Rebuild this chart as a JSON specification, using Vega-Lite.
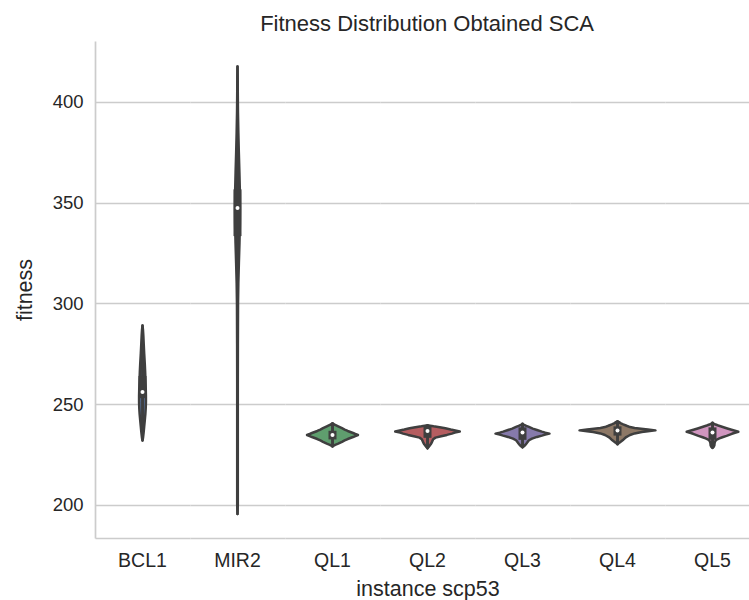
{
  "$schema": "https://vega.github.io/schema/vega-lite/v6.json",
  "padding": {"left": 14, "top": 13, "right": 0, "bottom": 2},
  "background": "white",
  "title": {"text": "Fitness Distribution Obtained SCA", "fontSize": 22, "fontWeight": "normal", "color": "#262626", "font": "Liberation Sans", "offset": 5, "anchor": "middle", "dx": 40},
  "data": {"values": [
    {"g": "BCL1", "v": 289.0, "d": 0},
    {"g": "BCL1", "v": 287.0, "d": 0.012},
    {"g": "BCL1", "v": 284.0, "d": 0.022},
    {"g": "BCL1", "v": 280.0, "d": 0.032},
    {"g": "BCL1", "v": 275.0, "d": 0.045},
    {"g": "BCL1", "v": 270.0, "d": 0.06},
    {"g": "BCL1", "v": 266.0, "d": 0.07},
    {"g": "BCL1", "v": 262.0, "d": 0.078},
    {"g": "BCL1", "v": 258.0, "d": 0.085},
    {"g": "BCL1", "v": 254.0, "d": 0.09},
    {"g": "BCL1", "v": 251.0, "d": 0.09},
    {"g": "BCL1", "v": 248.0, "d": 0.085},
    {"g": "BCL1", "v": 245.0, "d": 0.075},
    {"g": "BCL1", "v": 242.0, "d": 0.06},
    {"g": "BCL1", "v": 239.0, "d": 0.045},
    {"g": "BCL1", "v": 236.0, "d": 0.03},
    {"g": "BCL1", "v": 233.5, "d": 0.015},
    {"g": "BCL1", "v": 232.0, "d": 0},
    {"g": "MIR2", "v": 195.5, "d": 0},
    {"g": "MIR2", "v": 200.0, "d": 0.008},
    {"g": "MIR2", "v": 220.0, "d": 0.008},
    {"g": "MIR2", "v": 240.0, "d": 0.008},
    {"g": "MIR2", "v": 260.0, "d": 0.008},
    {"g": "MIR2", "v": 280.0, "d": 0.01},
    {"g": "MIR2", "v": 300.0, "d": 0.014},
    {"g": "MIR2", "v": 310.0, "d": 0.022},
    {"g": "MIR2", "v": 320.0, "d": 0.036},
    {"g": "MIR2", "v": 330.0, "d": 0.052},
    {"g": "MIR2", "v": 340.0, "d": 0.063},
    {"g": "MIR2", "v": 347.0, "d": 0.066},
    {"g": "MIR2", "v": 355.0, "d": 0.063},
    {"g": "MIR2", "v": 365.0, "d": 0.05},
    {"g": "MIR2", "v": 375.0, "d": 0.035},
    {"g": "MIR2", "v": 385.0, "d": 0.022},
    {"g": "MIR2", "v": 395.0, "d": 0.012},
    {"g": "MIR2", "v": 405.0, "d": 0.007},
    {"g": "MIR2", "v": 412.0, "d": 0.005},
    {"g": "MIR2", "v": 417.5, "d": 0},
    {"g": "QL1", "v": 229.0, "d": 0},
    {"g": "QL1", "v": 229.3, "d": 0.02},
    {"g": "QL1", "v": 229.8, "d": 0.07},
    {"g": "QL1", "v": 230.4, "d": 0.15},
    {"g": "QL1", "v": 231.3, "d": 0.25},
    {"g": "QL1", "v": 232.0, "d": 0.32},
    {"g": "QL1", "v": 232.7, "d": 0.4},
    {"g": "QL1", "v": 233.2, "d": 0.47},
    {"g": "QL1", "v": 233.7, "d": 0.54},
    {"g": "QL1", "v": 234.2, "d": 0.6},
    {"g": "QL1", "v": 234.7, "d": 0.67},
    {"g": "QL1", "v": 235.2, "d": 0.6},
    {"g": "QL1", "v": 235.7, "d": 0.54},
    {"g": "QL1", "v": 236.2, "d": 0.47},
    {"g": "QL1", "v": 236.7, "d": 0.4},
    {"g": "QL1", "v": 237.4, "d": 0.32},
    {"g": "QL1", "v": 238.1, "d": 0.25},
    {"g": "QL1", "v": 239.0, "d": 0.15},
    {"g": "QL1", "v": 239.7, "d": 0.07},
    {"g": "QL1", "v": 240.2, "d": 0.02},
    {"g": "QL1", "v": 240.5, "d": 0},
    {"g": "QL2", "v": 228.1, "d": 0},
    {"g": "QL2", "v": 228.4, "d": 0.013},
    {"g": "QL2", "v": 228.8, "d": 0.034},
    {"g": "QL2", "v": 229.5, "d": 0.06},
    {"g": "QL2", "v": 230.1, "d": 0.085},
    {"g": "QL2", "v": 230.9, "d": 0.11},
    {"g": "QL2", "v": 231.8, "d": 0.13},
    {"g": "QL2", "v": 232.6, "d": 0.15},
    {"g": "QL2", "v": 233.4, "d": 0.21},
    {"g": "QL2", "v": 234.1, "d": 0.36},
    {"g": "QL2", "v": 234.75, "d": 0.51},
    {"g": "QL2", "v": 235.4, "d": 0.64},
    {"g": "QL2", "v": 235.9, "d": 0.72},
    {"g": "QL2", "v": 236.4, "d": 0.85},
    {"g": "QL2", "v": 236.9, "d": 0.73},
    {"g": "QL2", "v": 237.4, "d": 0.61},
    {"g": "QL2", "v": 238.05, "d": 0.47},
    {"g": "QL2", "v": 238.6, "d": 0.32},
    {"g": "QL2", "v": 239.0, "d": 0.16},
    {"g": "QL2", "v": 239.3, "d": 0.07},
    {"g": "QL2", "v": 239.5, "d": 0},
    {"g": "QL3", "v": 228.6, "d": 0},
    {"g": "QL3", "v": 228.9, "d": 0.02},
    {"g": "QL3", "v": 229.3, "d": 0.05},
    {"g": "QL3", "v": 229.9, "d": 0.08},
    {"g": "QL3", "v": 230.6, "d": 0.11},
    {"g": "QL3", "v": 231.3, "d": 0.135},
    {"g": "QL3", "v": 232.1, "d": 0.17},
    {"g": "QL3", "v": 232.9, "d": 0.25},
    {"g": "QL3", "v": 233.75, "d": 0.38},
    {"g": "QL3", "v": 234.4, "d": 0.51},
    {"g": "QL3", "v": 234.9, "d": 0.6},
    {"g": "QL3", "v": 235.4, "d": 0.71},
    {"g": "QL3", "v": 235.9, "d": 0.6},
    {"g": "QL3", "v": 236.4, "d": 0.51},
    {"g": "QL3", "v": 237.2, "d": 0.38},
    {"g": "QL3", "v": 237.9, "d": 0.27},
    {"g": "QL3", "v": 238.7, "d": 0.17},
    {"g": "QL3", "v": 239.2, "d": 0.1},
    {"g": "QL3", "v": 239.8, "d": 0.04},
    {"g": "QL3", "v": 240.3, "d": 0},
    {"g": "QL4", "v": 230.1, "d": 0},
    {"g": "QL4", "v": 230.4, "d": 0.02},
    {"g": "QL4", "v": 230.9, "d": 0.05},
    {"g": "QL4", "v": 231.6, "d": 0.1},
    {"g": "QL4", "v": 232.5, "d": 0.16},
    {"g": "QL4", "v": 233.7, "d": 0.23},
    {"g": "QL4", "v": 234.7, "d": 0.33},
    {"g": "QL4", "v": 235.5, "d": 0.45},
    {"g": "QL4", "v": 236.2, "d": 0.64},
    {"g": "QL4", "v": 236.6, "d": 0.8},
    {"g": "QL4", "v": 237.0, "d": 1.0},
    {"g": "QL4", "v": 237.4, "d": 0.8},
    {"g": "QL4", "v": 237.8, "d": 0.62},
    {"g": "QL4", "v": 238.2, "d": 0.45},
    {"g": "QL4", "v": 238.65, "d": 0.33},
    {"g": "QL4", "v": 239.3, "d": 0.24},
    {"g": "QL4", "v": 240.0, "d": 0.15},
    {"g": "QL4", "v": 240.5, "d": 0.09},
    {"g": "QL4", "v": 241.1, "d": 0.04},
    {"g": "QL4", "v": 241.5, "d": 0},
    {"g": "QL5", "v": 228.3, "d": 0},
    {"g": "QL5", "v": 228.5, "d": 0.012},
    {"g": "QL5", "v": 228.8, "d": 0.03},
    {"g": "QL5", "v": 229.5, "d": 0.048},
    {"g": "QL5", "v": 230.5, "d": 0.054},
    {"g": "QL5", "v": 231.5, "d": 0.068},
    {"g": "QL5", "v": 232.3, "d": 0.1},
    {"g": "QL5", "v": 233.0, "d": 0.18},
    {"g": "QL5", "v": 233.6, "d": 0.26},
    {"g": "QL5", "v": 234.3, "d": 0.37},
    {"g": "QL5", "v": 235.3, "d": 0.51},
    {"g": "QL5", "v": 235.8, "d": 0.59},
    {"g": "QL5", "v": 236.3, "d": 0.68},
    {"g": "QL5", "v": 236.8, "d": 0.59},
    {"g": "QL5", "v": 237.3, "d": 0.5},
    {"g": "QL5", "v": 237.95, "d": 0.39},
    {"g": "QL5", "v": 238.8, "d": 0.25},
    {"g": "QL5", "v": 239.4, "d": 0.15},
    {"g": "QL5", "v": 239.9, "d": 0.08},
    {"g": "QL5", "v": 240.4, "d": 0.03},
    {"g": "QL5", "v": 240.8, "d": 0},
    {"g": "BCL1", "lo": 237.0, "q1": 253.0, "med": 256.0, "q3": 264.0, "hi": 284.0},
    {"g": "MIR2", "lo": 298.6, "q1": 333.4, "med": 347.3, "q3": 356.6, "hi": 391.4},
    {"g": "QL1", "lo": 229.5, "q1": 232.5, "med": 234.7, "q3": 236.8, "hi": 240.0},
    {"g": "QL2", "lo": 228.3, "q1": 233.3, "med": 236.7, "q3": 238.8, "hi": 239.5},
    {"g": "QL3", "lo": 229.0, "q1": 232.3, "med": 235.9, "q3": 238.5, "hi": 240.2},
    {"g": "QL4", "lo": 230.3, "q1": 234.4, "med": 237.0, "q3": 239.0, "hi": 241.3},
    {"g": "QL5", "lo": 228.5, "q1": 232.3, "med": 235.9, "q3": 238.5, "hi": 240.5}
  ]},
  "spacing": 0,
  "bounds": "flush",
  "resolve": {"scale": {"x": "independent"}, "axis": {"x": "independent"}},
  "facet": {
    "column": {
      "field": "g", "type": "nominal",
      "sort": ["BCL1", "MIR2", "QL1", "QL2", "QL3", "QL4", "QL5"],
      "title": "instance scp53",
      "header": {
        "labelOrient": "bottom", "titleOrient": "bottom",
        "labelPadding": 14, "titlePadding": -2,
        "labelFontSize": 19.5, "titleFontSize": 21.5, "titleFontWeight": "normal",
        "labelColor": "#262626", "titleColor": "#262626",
        "labelFont": "Liberation Sans", "titleFont": "Liberation Sans"
      }
    }
  },
  "spec": {
    "width": 95,
    "height": 497,
    "resolve": {"scale": {"x": "independent"}, "axis": {"x": "independent"}},
    "layer": [
      {
        "transform": [{"filter": "isValid(datum.d)"}],
        "mark": {"type": "area", "orient": "horizontal", "stroke": "#3f3f3f", "strokeWidth": 2.5, "strokeJoin": "round", "fillOpacity": 1},
        "encoding": {
          "y": {"field": "v", "type": "quantitative", "scale": {"domain": [183.6, 430.2], "nice": false, "zero": false},
                "axis": {"values": [200, 250, 300, 350, 400], "title": "fitness", "grid": true, "gridColor": "#cccccc", "gridWidth": 1.4,
                         "domain": true, "domainColor": "#cccccc", "domainWidth": 1.7, "ticks": false, "labelPadding": 12,
                         "labelFontSize": 18.5, "labelColor": "#262626", "labelFont": "Liberation Sans",
                         "titleFontSize": 21.5, "titleFontWeight": "normal", "titleColor": "#262626", "titleFont": "Liberation Sans", "titlePadding": 16}},
          "x": {"field": "d", "type": "quantitative", "stack": null,
                "scale": {"domain": [-1.25, 1.25], "nice": false, "zero": false},
                "axis": {"title": null, "labels": false, "ticks": false, "grid": false, "domain": true, "domainColor": "#cccccc", "domainWidth": 1.7}},
          "color": {"field": "g", "type": "nominal", "legend": null,
                    "scale": {"domain": ["BCL1", "MIR2", "QL1", "QL2", "QL3", "QL4", "QL5"],
                              "range": ["#5875a4", "#cc8963", "#5f9e6e", "#b55d60", "#867aab", "#8d7866", "#d095bf"]}}
        }
      },
      {
        "transform": [{"filter": "isValid(datum.d)"}],
        "mark": {"type": "area", "orient": "horizontal", "stroke": "#3f3f3f", "strokeWidth": 2.5, "strokeJoin": "round", "fillOpacity": 1},
        "encoding": {
          "y": {"field": "v", "type": "quantitative"},
          "x": {"field": "d", "type": "quantitative", "stack": null,
                "scale": {"domain": [-1.25, 1.25], "nice": false, "zero": false, "reverse": true},
                "axis": null},
          "color": {"field": "g", "type": "nominal", "legend": null}
        }
      },
      {
        "transform": [{"filter": "isValid(datum.med)"}],
        "mark": {"type": "rule", "color": "#3f3f3f", "strokeWidth": 2.5, "strokeCap": "butt"},
        "encoding": {
          "x": {"datum": 0, "type": "quantitative", "scale": {"domain": [-1.25, 1.25], "nice": false, "zero": false}, "axis": null},
          "y": {"field": "lo", "type": "quantitative"},
          "y2": {"field": "hi"}
        }
      },
      {
        "transform": [{"filter": "isValid(datum.med)"}],
        "mark": {"type": "rule", "color": "#3f3f3f", "strokeWidth": 8, "strokeCap": "butt"},
        "encoding": {
          "x": {"datum": 0, "type": "quantitative", "scale": {"domain": [-1.25, 1.25], "nice": false, "zero": false}, "axis": null},
          "y": {"field": "q1", "type": "quantitative"},
          "y2": {"field": "q3"}
        }
      },
      {
        "transform": [{"filter": "isValid(datum.med)"}],
        "mark": {"type": "point", "filled": true, "color": "white", "size": 16, "opacity": 1, "strokeWidth": 0},
        "encoding": {
          "x": {"datum": 0, "type": "quantitative", "scale": {"domain": [-1.25, 1.25], "nice": false, "zero": false}, "axis": null},
          "y": {"field": "med", "type": "quantitative"}
        }
      }
    ]
  },
  "config": {"view": {"stroke": null}}
}
